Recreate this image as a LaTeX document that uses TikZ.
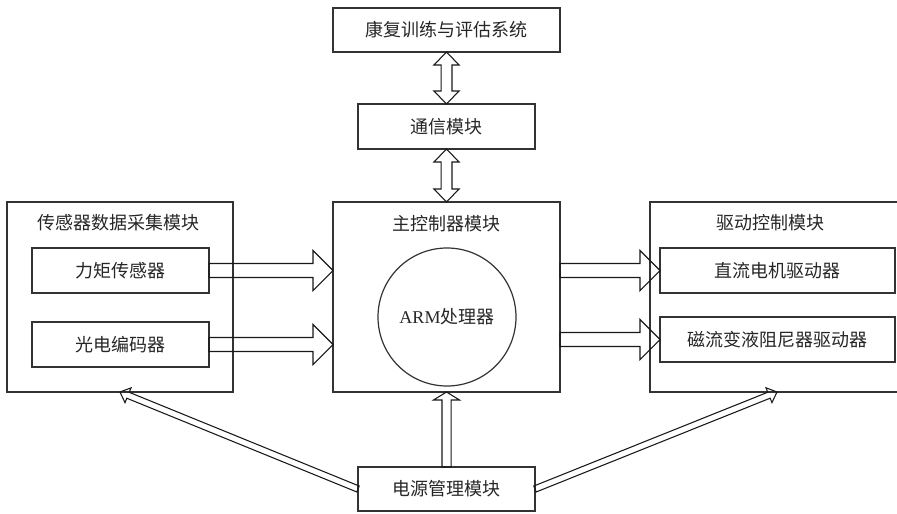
\documentclass[tikz,border=0pt]{standalone}
\usepackage{fontspec}
\setmainfont{Liberation Serif}
\newfontfamily\cjk{Noto Sans CJK SC}
\usetikzlibrary{calc}
\tikzset{
 box/.style={draw=black!80, line width=0.9pt, inner sep=0pt, outer sep=0pt,
   font=\cjk\fontsize{13.5}{15}\selectfont, text=black!85},
 ttl/.style={inner sep=0pt, font=\cjk\fontsize{13.5}{15}\selectfont, text=black!85},
 fatline/.style={draw=black!90, line width=0.8pt, line join=miter},
}
\newcommand{\fatsingle}[5]{%
  \coordinate (fH) at ($(#2)!#5!(#1)$);
  \path[fatline] ($(#1)!#3!90:(#2)$) -- ($(fH)!#3!90:(#2)$) -- ($(fH)!#4!90:(#2)$) -- (#2)
    -- ($(fH)!#4!-90:(#2)$) -- ($(fH)!#3!-90:(#2)$) -- ($(#1)!#3!-90:(#2)$) -- cycle;}
\newcommand{\fatdouble}[5]{%
  \coordinate (fHa) at ($(#1)!#5!(#2)$);
  \coordinate (fHb) at ($(#2)!#5!(#1)$);
  \path[fatline] (#1) -- ($(fHa)!#4!90:(#2)$) -- ($(fHa)!#3!90:(#2)$) -- ($(fHb)!#3!90:(#2)$)
    -- ($(fHb)!#4!90:(#2)$) -- (#2) -- ($(fHb)!#4!-90:(#2)$) -- ($(fHb)!#3!-90:(#2)$)
    -- ($(fHa)!#3!-90:(#2)$) -- ($(fHa)!#4!-90:(#2)$) -- cycle;}
\begin{document}
\begin{tikzpicture}[x=0.75pt,y=-0.75pt]
\useasboundingbox (0,0) rectangle (897,514);
\clip (0,0) rectangle (897,514);
% boxes
\node[box, minimum width=170.25pt, minimum height=33pt] (top) at (446.5,30) {康复训练与评估系统};
\node[box, minimum width=132.75pt, minimum height=33.75pt] (comm) at (446.5,126.5) {通信模块};
\node[box, minimum width=170.25pt, minimum height=142.5pt] (main) at (446.5,297) {};
\node[box, minimum width=169.5pt, minimum height=142.5pt] (left) at (120,297) {};
\node[box, minimum width=195pt, minimum height=142.5pt] (right) at (780,297) {};
\node[box, minimum width=132.75pt, minimum height=33.75pt] (L1) at (120.5,270.5) {力矩传感器};
\node[box, minimum width=132.75pt, minimum height=33.75pt] (L2) at (120.5,344.5) {光电编码器};
\node[box, minimum width=176.25pt, minimum height=33.75pt] (R1) at (777.5,270.5) {直流电机驱动器};
\node[box, minimum width=176.25pt, minimum height=33.75pt] (R2) at (777.5,339.5) {磁流变液阻尼器驱动器};
\node[box, minimum width=132.75pt, minimum height=33pt] (power) at (446.5,489) {电源管理模块};
\node[box, circle, minimum size=103.5pt, font=\fontsize{13.5}{15}\selectfont] (arm) at (447,317) {ARM{\cjk 处理器}};
% titles
\node[ttl] (tmain) at (446.5,224) {主控制器模块};
\node[ttl] (tleft) at (118,223) {传感器数据采集模块};
\node[ttl] (tright) at (770,223) {驱动控制模块};
% connectors
\fatdouble{top.south}{comm.north}{4.1pt}{9.4pt}{9.75pt}
\fatdouble{comm.south}{main.north}{4.1pt}{9.4pt}{9.75pt}
\coordinate (m1) at (main.west |- L1.east);
\coordinate (m2) at (main.west |- L2.east);
\fatsingle{L1.east}{m1}{5.25pt}{15pt}{15pt}
\fatsingle{L2.east}{m2}{5.25pt}{15pt}{15pt}
\coordinate (r1) at (main.east |- R1.west);
\coordinate (r2) at (main.east |- R2.west);
\fatsingle{r1}{R1.west}{5.25pt}{15pt}{15pt}
\fatsingle{r2}{R2.west}{5.25pt}{15pt}{15pt}
\fatsingle{power.north}{main.south}{3.4pt}{9.75pt}{6pt}
\coordinate (rtip) at ($(right.south)+(-3,0)$);
\fatsingle{power.west}{left.south}{2.4pt}{6pt}{6.5pt}
\fatsingle{power.east}{rtip}{2.4pt}{6pt}{6.5pt}
\end{tikzpicture}
\end{document}
